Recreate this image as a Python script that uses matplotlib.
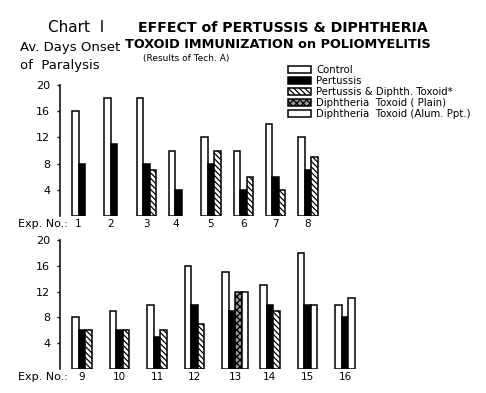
import numpy as np
import matplotlib
matplotlib.use('Agg')
import matplotlib.pyplot as plt

# experiment numbers and average days to onset of paralysis
top_exps = ['1', '2', '3', '4', '5', '6', '7', '8']
top_control = [16, 18, 18, 10, 12, 10, 14, 12]
top_pertussis = [8, 11, 8, 4, 8, 4, 6, 7]
top_pert_diph = [None, None, 7, None, 10, 6, 4, 9]
top_diph_plain = [None] * 8
top_diph_alum = [None] * 8

bottom_exps = ['9', '10', '11', '12', '13', '14', '15', '16']
bottom_control = [8, 9, 10, 16, 15, 13, 18, 10]
bottom_pertussis = [6, 6, 5, 10, 9, 10, 10, 8]
bottom_pert_diph = [6, 6, 6, 7, None, 9, None, None]
bottom_diph_plain = [None, None, None, None, 12, None, None, None]
bottom_diph_alum = [None, None, None, None, 12, None, 10, 11]

series_labels = ['Control', 'Pertussis', 'Pertussis & Diphth. Toxoid*',
                 'Diphtheria  Toxoid ( Plain)', 'Diphtheria  Toxoid (Alum. Ppt.)']
y_ticks = [4, 8, 12, 16, 20]

styles = [
    dict(facecolor='white', hatch=None),
    dict(facecolor='black', hatch=None),
    dict(facecolor='white', hatch='\\\\\\\\\\\\'),
    dict(facecolor='#999999', hatch='xxxxx'),
    dict(facecolor='white', hatch=None),
]

plt.rcParams['font.family'] = 'DejaVu Sans'
plt.rcParams['hatch.linewidth'] = 0.9

W, H = 486, 393
fig = plt.figure(figsize=(W / 100, H / 100), dpi=100)


def draw_panel(y0, y1, exps, series, gap):
    # y0 = pixel row of value 0, y1 = pixel row of value 20
    ax = fig.add_axes([60 / W, (H - y0) / H, 300 / W, (y0 - y1) / H])
    bw = 6.5
    for i in range(len(exps)):
        left = 12 + i * gap
        k = 0
        for s, vals in enumerate(series):
            v = vals[i]
            if v is None:
                continue
            ax.bar(left + k * bw, v, width=bw, align='edge',
                   edgecolor='black', linewidth=1.1, **styles[s])
            k += 1
        ax.text(left + k * bw / 2, -0.4, exps[i], ha='center', va='top', fontsize=7.5)
    ax.set_xlim(0, 300)
    ax.set_ylim(0, 20)
    for side in ['top', 'right', 'bottom']:
        ax.spines[side].set_visible(False)
    ax.spines['left'].set_linewidth(1.1)
    ax.set_xticks([])
    ax.set_yticks(y_ticks)
    ax.tick_params(axis='y', length=2, width=1, labelsize=8, pad=5)
    ax.text(-42, -0.4, 'Exp. No.:', ha='left', va='top', fontsize=8)
    return ax


ax1 = draw_panel(216, 85, top_exps,
                 [top_control, top_pertussis, top_pert_diph, top_diph_plain, top_diph_alum], 32.3)
ax2 = draw_panel(369, 240, bottom_exps,
                 [bottom_control, bottom_pertussis, bottom_pert_diph, bottom_diph_plain, bottom_diph_alum], 37.6)

handles = [plt.Rectangle((0, 0), 1, 1, edgecolor='black', linewidth=1.1, **st) for st in styles]
fig.legend(handles, series_labels, loc='upper left', bbox_to_anchor=(283 / W, 1 - 60 / H),
           frameon=False, fontsize=7.3, handlelength=2.3, handleheight=0.7,
           labelspacing=0.1, handletextpad=0.5, borderpad=0)

fig.text(48 / W, 1 - 28 / H, 'Chart  I', fontsize=11, va='center')
fig.text(283 / W, 1 - 28 / H, 'EFFECT of PERTUSSIS & DIPHTHERIA', fontsize=10.2,
         fontweight='bold', ha='center', va='center')
fig.text(278 / W, 1 - 44 / H, 'TOXOID IMMUNIZATION on POLIOMYELITIS', fontsize=9.3,
         fontweight='bold', ha='center', va='center')
fig.text(143 / W, 1 - 58 / H, '(Results of Tech. A)', fontsize=6.5, va='center')
fig.text(20 / W, 1 - 48 / H, 'Av. Days Onset', fontsize=9.5, va='center')
fig.text(20 / W, 1 - 65 / H, 'of  Paralysis', fontsize=9.5, va='center')

fig.savefig('out.png', dpi=100)
